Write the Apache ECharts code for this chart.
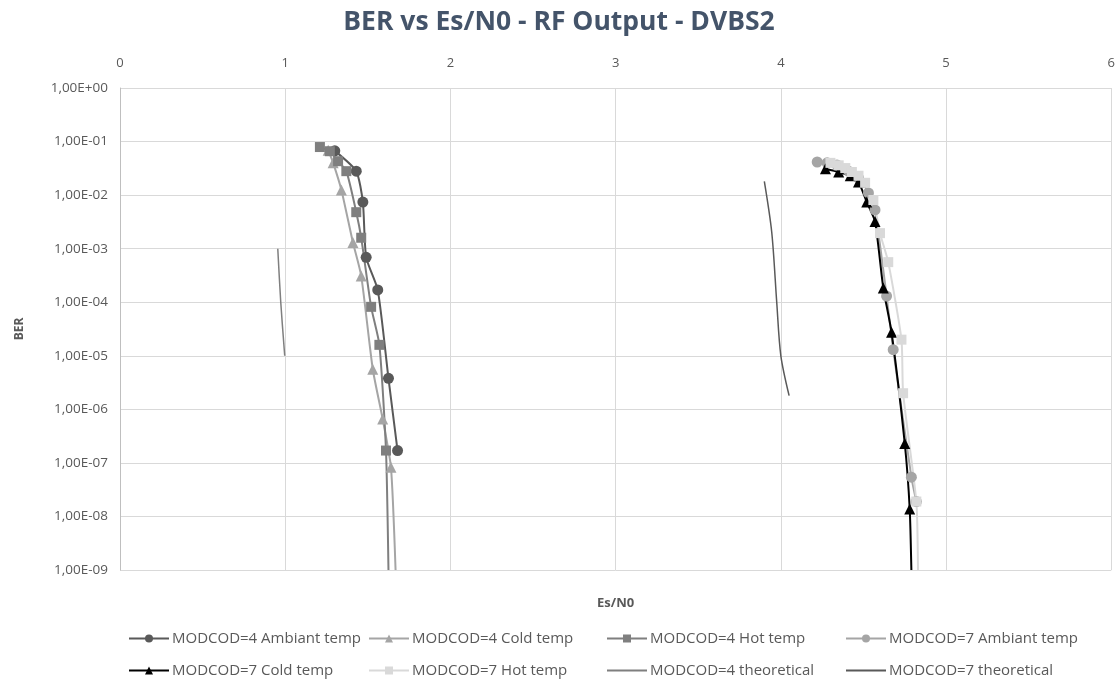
<!DOCTYPE html>
<html>
<head>
<meta charset="utf-8">
<script src="https://cdn.jsdelivr.net/npm/echarts@6/dist/echarts.min.js"></script>
<style>
  html, body { margin: 0; padding: 0; background: #fff; }
  #container { width: 1118px; height: 681px; }
</style>
</head>
<body>
<div id="container"></div>
<script>
// Es/N0 (x) and BER (y)
const amb4X = [1.30, 1.43, 1.47, 1.49, 1.56, 1.625, 1.68];
const amb4Y = [6.7e-2, 2.8e-2, 7.4e-3, 6.9e-4, 1.7e-4, 3.8e-6, 1.7e-7];

const cold4X = [1.26, 1.29, 1.34, 1.41, 1.46, 1.53, 1.59, 1.64, 1.668];
const cold4Y = [6.9e-2, 4.0e-2, 1.25e-2, 1.3e-3, 3.1e-4, 5.6e-6, 6.6e-7, 8.3e-8, 1e-9];

const hot4X = [1.21, 1.27, 1.32, 1.37, 1.43, 1.46, 1.52, 1.57, 1.61, 1.625];
const hot4Y = [7.9e-2, 6.6e-2, 4.3e-2, 2.8e-2, 4.8e-3, 1.6e-3, 8.2e-5, 1.6e-5, 1.7e-7, 1e-9];

const amb7X = [4.22, 4.28, 4.34, 4.41, 4.47, 4.53, 4.57, 4.64, 4.68, 4.79, 4.82];
const amb7Y = [4.15e-2, 4.0e-2, 3.65e-2, 2.8e-2, 2.1e-2, 1.1e-2, 5.3e-3, 1.3e-4, 1.3e-5, 5.4e-8, 1.9e-8];

const cold7X = [4.27, 4.35, 4.42, 4.47, 4.52, 4.57, 4.62, 4.67, 4.75, 4.78, 4.79];
const cold7Y = [3.1e-2, 2.7e-2, 2.3e-2, 1.76e-2, 7.4e-3, 3.2e-3, 1.84e-4, 2.75e-5, 2.3e-7, 1.37e-8, 1e-9];

const hot7X = [4.30, 4.35, 4.39, 4.43, 4.47, 4.51, 4.56, 4.60, 4.65, 4.73, 4.74, 4.82, 4.83];
const hot7Y = [4.0e-2, 3.6e-2, 3.2e-2, 2.7e-2, 2.3e-2, 1.7e-2, 8.1e-3, 1.95e-3, 5.6e-4, 2.0e-5, 2.0e-6, 1.9e-8, 1e-9];

const theo4X = [0.955, 0.973, 0.997];
const theo4Y = [1e-3, 1e-4, 1e-5];

const theo7X = [3.90, 3.945, 3.975, 4.0, 4.05];
const theo7Y = [1.8e-2, 2e-3, 1e-4, 1e-5, 1.8e-6];

const seriesNames = [
  "MODCOD=4 Ambiant temp", "MODCOD=4 Cold temp", "MODCOD=4 Hot temp", "MODCOD=7 Ambiant temp",
  "MODCOD=7 Cold temp", "MODCOD=7 Hot temp", "MODCOD=4 theoretical", "MODCOD=7 theoretical"
];

const FONT = "Open Sans";
const BER_MIN = 1e-9;

function pairs(xs, ys) {
  // the last point of some curves sits on the bottom of the plot, no marker there
  return xs.map((x, i) => ys[i] <= BER_MIN ? { value: [x, ys[i]], symbol: "none" } : [x, ys[i]]);
}

function curve(name, xs, ys, color, symbol, size) {
  return {
    name: name,
    type: "line",
    data: pairs(xs, ys),
    symbol: symbol,
    symbolSize: size,
    smooth: 0.2,
    itemStyle: { color: color },
    lineStyle: { color: color, width: 2 },
    z: 3
  };
}

function theory(name, xs, ys, color) {
  return {
    name: name,
    type: "line",
    data: pairs(xs, ys),
    showSymbol: false,
    symbol: "none",
    smooth: 0.3,
    itemStyle: { color: color },
    lineStyle: { color: color, width: 1.5 },
    z: 2
  };
}

function berLabel(v) {
  const e = Math.round(Math.log10(v));
  const a = Math.abs(e);
  return "1,00E" + (e < 0 ? "-" : "+") + (a < 10 ? "0" + a : a);
}

// one legend per entry, laid out in a 4 x 2 grid like the original
const legendCols = [128, 368, 606, 845];
const legendRows = [631, 663];
const legends = seriesNames.map((name, i) => ({
  left: legendCols[i % 4],
  top: legendRows[Math.floor(i / 4)],
  padding: 0,
  itemWidth: 40,
  itemHeight: 10,
  itemGap: 0,
  data: [i >= 6 ? { name: name, itemStyle: { opacity: 0 } } : name],
  textStyle: { color: "#595959", fontFamily: FONT, fontSize: 15, padding: [0, 0, 0, -2] }
}));

const option = {
  animation: false,
  backgroundColor: "#ffffff",
  title: {
    text: "BER vs Es/N0 - RF Output - DVBS2",
    left: "center",
    top: 4,
    textStyle: { color: "#44546a", fontFamily: FONT, fontSize: 26.5, fontWeight: "bold" }
  },
  legend: legends,
  grid: { left: 120, right: 5, top: 88, bottom: 111 },
  xAxis: [
    {
      type: "value",
      position: "top",
      min: 0,
      max: 6,
      interval: 1,
      axisLine: { show: false },
      axisTick: { show: false },
      axisLabel: { color: "#595959", fontFamily: FONT, fontSize: 13, margin: 18 },
      splitLine: { show: true, lineStyle: { color: "#d9d9d9", width: 1 } }
    },
    {
      type: "value",
      position: "bottom",
      min: 0,
      max: 6,
      name: "Es/N0",
      nameLocation: "middle",
      nameGap: 27,
      nameTextStyle: { color: "#595959", fontFamily: FONT, fontSize: 13, fontWeight: "bold" },
      axisLine: { show: false },
      axisTick: { show: false },
      axisLabel: { show: false },
      splitLine: { show: false }
    }
  ],
  yAxis: {
    type: "log",
    logBase: 10,
    min: BER_MIN,
    max: 1,
    interval: 1,
    name: "BER",
    nameLocation: "middle",
    nameGap: 94,
    nameRotate: 90,
    nameTextStyle: { color: "#595959", fontFamily: FONT, fontSize: 12, fontWeight: "bold" },
    axisLine: { show: true, lineStyle: { color: "#bfbfbf" } },
    axisTick: { show: false },
    axisLabel: { color: "#595959", fontFamily: FONT, fontSize: 13.5, margin: 12, formatter: berLabel },
    splitLine: { show: true, lineStyle: { color: "#d9d9d9", width: 1 } }
  },
  series: [
    curve(seriesNames[0], amb4X, amb4Y, "#595959", "circle", 11),
    curve(seriesNames[1], cold4X, cold4Y, "#a5a5a5", "triangle", 11),
    curve(seriesNames[2], hot4X, hot4Y, "#7f7f7f", "rect", 10),
    curve(seriesNames[3], amb7X, amb7Y, "#a5a5a5", "circle", 11),
    curve(seriesNames[4], cold7X, cold7Y, "#000000", "triangle", 11),
    curve(seriesNames[5], hot7X, hot7Y, "#d9d9d9", "rect", 10),
    theory(seriesNames[6], theo4X, theo4Y, "#7f7f7f"),
    theory(seriesNames[7], theo7X, theo7Y, "#595959")
  ]
};

const chart = echarts.init(document.getElementById("container"), null, { renderer: "canvas" });
chart.setOption(option);
</script>
</body>
</html>
